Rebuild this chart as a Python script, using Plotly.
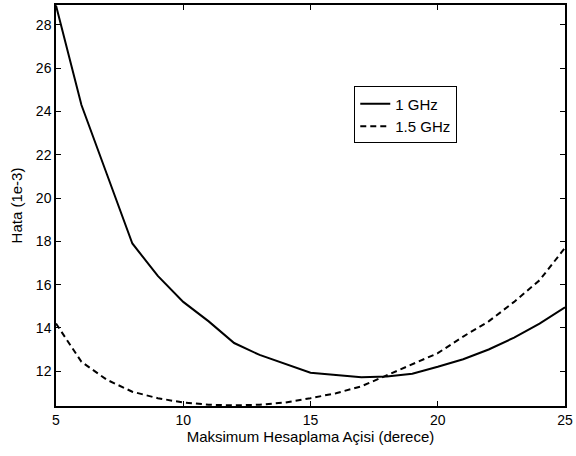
import plotly.graph_objects as go

x_deg = list(range(5, 26))
err_1ghz = [28.9, 24.3, 21.1, 17.9, 16.4, 15.2, 14.3, 13.3, 12.75, 12.35, 11.93,
            11.82, 11.72, 11.75, 11.88, 12.2, 12.55, 13.0, 13.55, 14.2, 14.95]
err_15ghz = [14.2, 12.43, 11.6, 11.05, 10.75, 10.55, 10.45, 10.42, 10.45, 10.55, 10.75,
             10.98, 11.3, 11.8, 12.3, 12.83, 13.6, 14.3, 15.2, 16.2, 17.7]

fig = go.Figure()
fig.add_trace(go.Scatter(x=x_deg, y=err_1ghz, mode="lines", name="1 GHz",
                         line=dict(color="black", width=2, dash="solid")))
fig.add_trace(go.Scatter(x=x_deg, y=err_15ghz, mode="lines", name="1.5 GHz",
                         line=dict(color="black", width=2, dash="6px,4px")))

axis_common = dict(showgrid=False, zeroline=False, showline=True, linecolor="black",
                   linewidth=1.5, mirror="ticks", ticks="inside", ticklen=5,
                   tickcolor="black", tickfont=dict(size=14, color="black"))
fig.update_xaxes(range=[5, 25], tickvals=[5, 10, 15, 20, 25],
                 title=dict(text="Maksimum Hesaplama Açisi (derece)", font=dict(size=15, color="black"), standoff=4),
                 **axis_common)
fig.update_yaxes(range=[10.39, 28.92], tickvals=[12, 14, 16, 18, 20, 22, 24, 26, 28],
                 title=dict(text="Hata (1e-3)", font=dict(size=15, color="black"), standoff=10),
                 **axis_common)
fig.update_layout(
    width=576, height=456,
    margin=dict(l=56, r=8, t=3, b=50),
    plot_bgcolor="white", paper_bgcolor="white",
    font=dict(family="Liberation Sans, Arial, sans-serif", size=14, color="black"),
    legend=dict(x=0.586, y=0.797, xanchor="left", yanchor="top",
                bordercolor="black", borderwidth=1, bgcolor="white",
                font=dict(size=15), tracegroupgap=0, itemwidth=30),
    showlegend=True,
)
fig.write_html("out.html")
